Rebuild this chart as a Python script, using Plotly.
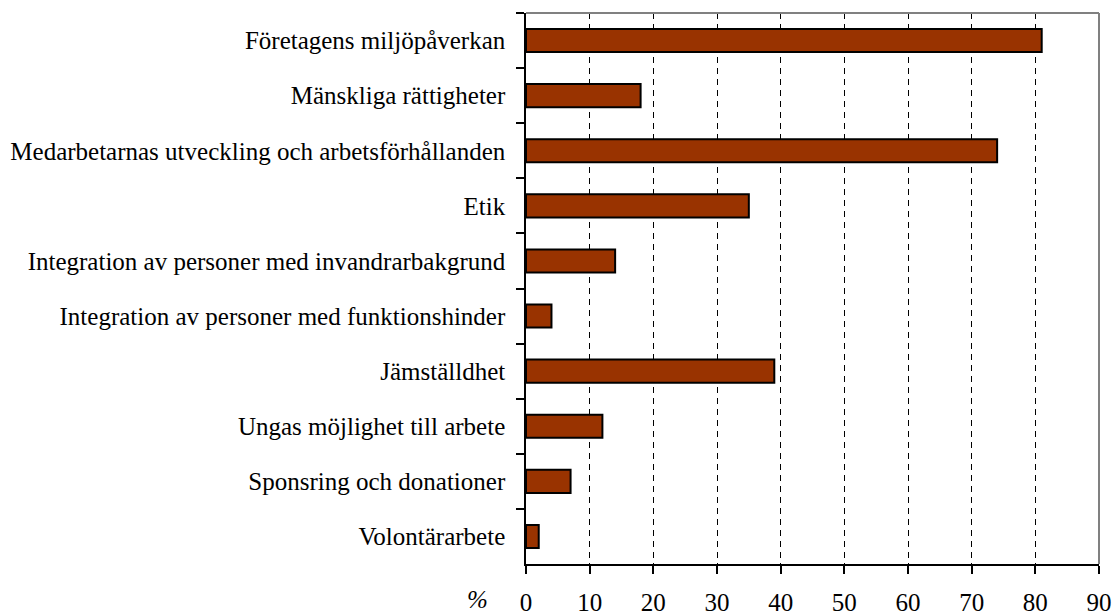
import plotly.graph_objects as go

categories = [
    "Företagens miljöpåverkan",
    "Mänskliga rättigheter",
    "Medarbetarnas utveckling och arbetsförhållanden",
    "Etik",
    "Integration av personer med invandrarbakgrund",
    "Integration av personer med funktionshinder",
    "Jämställdhet",
    "Ungas möjlighet till arbete",
    "Sponsring och donationer",
    "Volontärarbete",
]
values = [81, 18, 74, 35, 14, 4, 39, 12, 7, 2]
x_ticks = [0, 10, 20, 30, 40, 50, 60, 70, 80, 90]

FONT = "Liberation Serif"
FS = 25

fig = go.Figure(go.Bar(
    y=categories,
    x=values,
    orientation="h",
    marker=dict(color="#993300", line=dict(color="black", width=2)),
    width=0.42,
))

fig.update_layout(
    template="none",
    width=1114, height=616,
    margin=dict(l=526, r=15, t=13, b=52, autoexpand=False),
    plot_bgcolor="white", paper_bgcolor="white",
    font=dict(family=FONT, size=FS, color="black"),
    showlegend=False,
    xaxis=dict(
        range=[0, 90], tickvals=x_ticks, ticktext=[str(v) for v in x_ticks],
        showgrid=True, gridcolor="black", griddash="6px,5px", gridwidth=1,
        showline=True, linecolor="black", linewidth=1.5,
        ticks="outside", ticklen=8, tickcolor="black", tickwidth=1.5,
        ticklabelstandoff=7, zeroline=False, automargin=False,
        tickfont=dict(family=FONT, size=FS, color="black"),
    ),
    yaxis=dict(
        categoryorder="array", categoryarray=categories, autorange="reversed",
        showline=True, linecolor="black", linewidth=1.5,
        ticks="outside", ticklen=8, tickcolor="black", tickwidth=1.5,
        tickson="boundaries", showgrid=False, ticklabelstandoff=14,
        automargin=False,
        tickfont=dict(family=FONT, size=FS, color="black"),
    ),
    shapes=[
        dict(type="line", xref="paper", yref="paper", x0=0, x1=1, y0=1, y1=1,
             line=dict(color="#808080", width=2)),
        dict(type="line", xref="paper", yref="paper", x0=1, x1=1, y0=0, y1=1,
             line=dict(color="#808080", width=2)),
    ],
    annotations=[
        dict(text="<i>%</i>", xref="paper", yref="paper", x=-0.0838, y=0,
             yshift=-51, xanchor="center", yanchor="bottom", showarrow=False,
             font=dict(family=FONT, size=FS)),
    ],
)

fig.write_html("out.html", config={"displayModeBar": False},
               post_script="document.body.style.margin='0';")
